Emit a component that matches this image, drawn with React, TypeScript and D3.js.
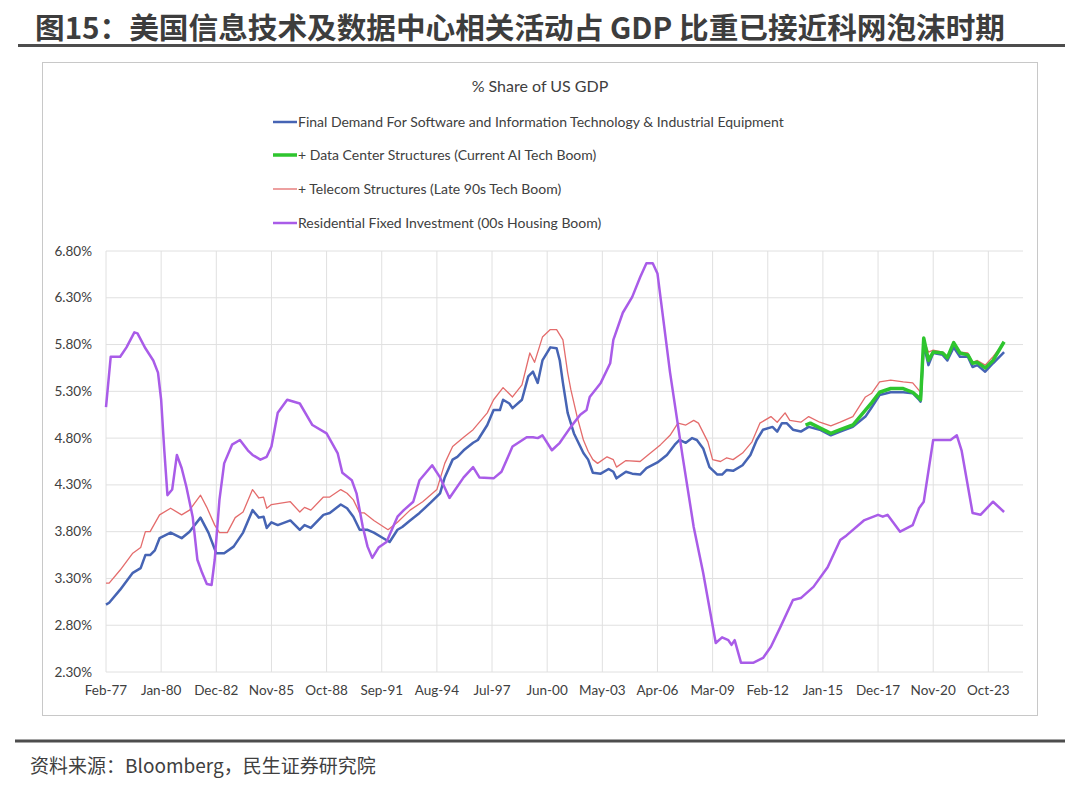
import React from 'react';
import * as d3 from 'd3';

// x positions are month offsets from Feb-77 (monthly category axis)
const xTickLabels = ['Feb-77', 'Jan-80', 'Dec-82', 'Nov-85', 'Oct-88', 'Sep-91', 'Aug-94', 'Jul-97', 'Jun-00', 'May-03', 'Apr-06', 'Mar-09', 'Feb-12', 'Jan-15', 'Dec-17', 'Nov-20', 'Oct-23'];
const tickEvery = 35;
const yTicks = [2.3, 2.8, 3.3, 3.8, 4.3, 4.8, 5.3, 5.8, 6.3, 6.8];

const itEquipment: [number, number][] = [
  [0, 3.02], [2, 3.04], [9, 3.18], [17, 3.36], [22, 3.41], [25, 3.55], [28, 3.55], [31, 3.6], [34, 3.73], [41, 3.79], [48, 3.73], [53, 3.8], [60, 3.95], [65, 3.79], [70, 3.57], [75, 3.57], [81, 3.64], [87, 3.79], [93, 4.03], [97, 3.95], [100, 3.96], [102, 3.84], [105, 3.9], [109, 3.87], [117, 3.92], [123, 3.82], [126, 3.87], [130, 3.84], [138, 3.98], [142, 4.0], [149, 4.09], [153, 4.05], [157, 3.96], [161, 3.82], [166, 3.82], [170, 3.79], [176, 3.73], [180, 3.69], [185, 3.82], [188, 3.85], [193, 3.92], [199, 4.0], [206, 4.11], [212, 4.21], [215, 4.38], [220, 4.57], [223, 4.6], [227, 4.67], [233, 4.75], [236, 4.78], [242, 4.94], [246, 5.1], [250, 5.1], [252, 5.21], [256, 5.17], [258, 5.12], [264, 5.21], [268, 5.46], [271, 5.51], [274, 5.39], [277, 5.63], [282, 5.77], [286, 5.76], [288, 5.63], [290, 5.39], [293, 5.07], [297, 4.85], [303, 4.64], [306, 4.57], [309, 4.43], [314, 4.42], [319, 4.47], [322, 4.44], [324, 4.37], [330, 4.44], [334, 4.42], [339, 4.41], [343, 4.48], [350, 4.54], [356, 4.62], [361, 4.73], [364, 4.78], [368, 4.75], [372, 4.8], [375, 4.78], [379, 4.69], [383, 4.49], [388, 4.41], [391, 4.41], [394, 4.46], [398, 4.45], [404, 4.51], [409, 4.62], [413, 4.78], [417, 4.89], [423, 4.92], [426, 4.87], [429, 4.96], [432, 4.96], [436, 4.89], [441, 4.87], [446, 4.92], [453, 4.89], [460, 4.83], [466, 4.87], [474, 4.92], [482, 5.03], [486, 5.13], [491, 5.26], [498, 5.29], [506, 5.29], [512, 5.28], [516, 5.21], [517, 5.19], [519, 5.8], [522, 5.58], [525, 5.71], [531, 5.69], [534, 5.63], [538, 5.77], [542, 5.67], [547, 5.67], [550, 5.56], [553, 5.58], [558, 5.51], [563, 5.6], [570, 5.72],
];

const plusTelecom: [number, number][] = [
  [0, 3.25], [2, 3.25], [9, 3.39], [17, 3.57], [22, 3.63], [25, 3.8], [28, 3.8], [34, 3.98], [41, 4.05], [48, 3.98], [53, 4.03], [60, 4.19], [64, 4.06], [69, 3.87], [72, 3.79], [77, 3.79], [82, 3.95], [87, 4.01], [93, 4.25], [97, 4.16], [100, 4.17], [102, 4.05], [105, 4.09], [117, 4.12], [123, 4.01], [126, 4.06], [130, 4.03], [138, 4.17], [142, 4.17], [149, 4.25], [153, 4.21], [157, 4.14], [161, 4.0], [164, 4.0], [170, 3.92], [179, 3.82], [185, 3.9], [193, 4.03], [201, 4.12], [210, 4.25], [215, 4.53], [220, 4.71], [227, 4.81], [233, 4.89], [242, 5.07], [246, 5.21], [252, 5.34], [258, 5.24], [264, 5.37], [269, 5.71], [272, 5.61], [277, 5.88], [282, 5.96], [286, 5.96], [290, 5.85], [293, 5.5], [295, 5.32], [299, 5.03], [303, 4.78], [306, 4.66], [309, 4.57], [312, 4.53], [318, 4.6], [322, 4.57], [324, 4.49], [330, 4.56], [339, 4.55], [344, 4.62], [352, 4.73], [358, 4.83], [363, 4.96], [368, 4.94], [373, 4.99], [376, 4.96], [382, 4.76], [385, 4.57], [390, 4.55], [394, 4.59], [398, 4.57], [404, 4.64], [410, 4.76], [415, 4.96], [422, 5.03], [426, 4.97], [431, 5.07], [434, 4.99], [441, 4.97], [446, 5.03], [453, 4.97], [460, 4.93], [466, 4.97], [474, 5.03], [482, 5.24], [486, 5.28], [491, 5.4], [498, 5.42], [506, 5.4], [512, 5.39], [516, 5.31], [517, 5.29], [519, 5.85], [522, 5.72], [525, 5.74], [531, 5.72], [534, 5.67], [538, 5.83], [542, 5.72], [547, 5.71], [550, 5.61], [553, 5.63], [558, 5.58], [563, 5.67], [570, 5.82],
];

const plusDataCenter: [number, number][] = [
  [444, 4.94], [447, 4.96], [453, 4.91], [460, 4.85], [466, 4.89], [474, 4.94], [482, 5.1], [486, 5.18], [491, 5.29], [498, 5.33], [506, 5.33], [512, 5.29], [516, 5.23], [517, 5.21], [519, 5.87], [522, 5.63], [525, 5.72], [531, 5.71], [534, 5.66], [538, 5.82], [542, 5.71], [547, 5.69], [550, 5.6], [553, 5.61], [558, 5.55], [563, 5.63], [570, 5.83],
];

const residential: [number, number][] = [
  [0, 5.13], [3, 5.67], [9, 5.67], [13, 5.77], [18, 5.93], [20, 5.92], [25, 5.76], [30, 5.63], [33, 5.5], [35, 5.21], [37, 4.67], [39, 4.19], [42, 4.25], [45, 4.62], [48, 4.48], [51, 4.28], [55, 3.96], [58, 3.5], [61, 3.36], [64, 3.24], [67, 3.23], [69, 3.5], [72, 4.14], [75, 4.53], [80, 4.73], [85, 4.78], [90, 4.67], [93, 4.62], [98, 4.57], [102, 4.6], [105, 4.71], [109, 5.07], [115, 5.21], [123, 5.17], [131, 4.94], [140, 4.85], [147, 4.64], [150, 4.43], [156, 4.35], [159, 4.21], [163, 3.85], [166, 3.64], [169, 3.52], [173, 3.63], [178, 3.69], [185, 3.96], [189, 4.03], [195, 4.12], [199, 4.35], [207, 4.51], [212, 4.38], [218, 4.16], [227, 4.38], [233, 4.49], [237, 4.38], [246, 4.37], [251, 4.44], [258, 4.71], [267, 4.81], [271, 4.81], [274, 4.8], [277, 4.83], [283, 4.67], [288, 4.75], [295, 4.92], [301, 5.05], [305, 5.1], [307, 5.24], [314, 5.39], [320, 5.6], [322, 5.85], [328, 6.14], [334, 6.31], [339, 6.52], [343, 6.67], [347, 6.67], [350, 6.56], [358, 5.5], [366, 4.6], [373, 3.85], [379, 3.36], [387, 2.61], [391, 2.67], [395, 2.64], [397, 2.59], [399, 2.64], [403, 2.4], [411, 2.4], [417, 2.45], [422, 2.57], [428, 2.78], [436, 3.07], [441, 3.09], [449, 3.21], [458, 3.42], [466, 3.71], [470, 3.76], [481, 3.92], [490, 3.98], [493, 3.96], [496, 3.98], [504, 3.8], [512, 3.87], [516, 4.05], [519, 4.12], [525, 4.78], [531, 4.78], [536, 4.78], [540, 4.83], [543, 4.67], [550, 4.0], [555, 3.98], [563, 4.12], [570, 4.01],
];

const legendItems = [
  { label: 'Final Demand For Software and Information Technology & Industrial Equipment', color: '#4664b4', width: 2.5 },
  { label: '+ Data Center Structures (Current AI Tech Boom)', color: '#2ec52e', width: 3.5 },
  { label: '+ Telecom Structures (Late 90s Tech Boom)', color: '#e46c6c', width: 1.3 },
  { label: 'Residential Fixed Investment (00s Housing Boom)', color: '#a95ce8', width: 2.5 },
];

const headerTitle = '图15：美国信息技术及数据中心相关活动占 GDP 比重已接近科网泡沫时期';
const sourceText = '资料来源：Bloomberg，民生证券研究院';

export default function App() {
  const x = d3.scaleLinear().domain([0, 582]).range([106, 1023]);
  const y = d3.scaleLinear().domain([2.3, 6.8]).range([672, 251]);
  const line = d3
    .line<[number, number]>()
    .x((d) => x(d[0]))
    .y((d) => y(d[1]));

  const font = 'Lato, "Open Sans", sans-serif';
  const cjk = '"Noto Sans CJK SC", "Noto Sans", sans-serif';
  const txt = '#404040';

  return (
    <svg width={1080} height={785} style={{ position: 'absolute', left: 0, top: 0, background: '#fff' }}>
      <rect x={0} y={0} width={1080} height={785} fill="#fff" />
      {/* header */}
      <text x={35} y={39} fontFamily={cjk} fontWeight={700} fontSize={29} fill="#3d3d3d" textLength={970} lengthAdjust="spacingAndGlyphs">
        {headerTitle}
      </text>
      <line x1={18} x2={1065} y1={45.5} y2={45.5} stroke="#4d4d4d" strokeWidth={3} />

      {/* chart box */}
      <rect x={42.5} y={62.5} width={995} height={653} fill="#fff" stroke="#c8c8c8" strokeWidth={1} />

      <text x={540} y={92} textAnchor="middle" fontFamily={font} fontSize={16} fill={txt}>
        % Share of US GDP
      </text>

      {legendItems.map((it, i) => {
        const ly = [122, 155, 189, 223][i];
        return (
          <g key={it.label}>
            <line x1={273} x2={297} y1={ly} y2={ly} stroke={it.color} strokeWidth={it.width} />
            <text x={298} y={ly + 5} fontFamily={font} fontSize={14} fill={txt}>
              {it.label}
            </text>
          </g>
        );
      })}

      {/* grid */}
      {yTicks.map((t) => (
        <line key={'h' + t} x1={106} x2={1023} y1={y(t)} y2={y(t)} stroke="#e0e0e0" strokeWidth={1} />
      ))}
      {xTickLabels.map((lab, i) => (
        <line key={'v' + lab} x1={x(i * tickEvery)} x2={x(i * tickEvery)} y1={251} y2={672} stroke="#e0e0e0" strokeWidth={1} />
      ))}

      {/* axis labels */}
      {yTicks.map((t) => (
        <text key={'yl' + t} x={92} y={y(t) + 4.5} textAnchor="end" fontFamily={font} fontSize={13.5} fill={txt}>
          {t.toFixed(2)}%
        </text>
      ))}
      {xTickLabels.map((lab, i) => (
        <text key={'xl' + lab} x={x(i * tickEvery)} y={695} textAnchor="middle" fontFamily={font} fontSize={13.5} fill={txt}>
          {lab}
        </text>
      ))}

      {/* series */}
      <path d={line(plusTelecom) || ''} fill="none" stroke="#e46c6c" strokeWidth={1.3} strokeLinejoin="round" />
      <path d={line(itEquipment) || ''} fill="none" stroke="#4664b4" strokeWidth={2.5} strokeLinejoin="round" />
      <path d={line(plusDataCenter) || ''} fill="none" stroke="#2ec52e" strokeWidth={3.5} strokeLinejoin="round" />
      <path d={line(residential) || ''} fill="none" stroke="#a95ce8" strokeWidth={2.5} strokeLinejoin="round" />

      {/* footer */}
      <line x1={15} x2={1065} y1={741} y2={741} stroke="#4d4d4d" strokeWidth={3} />
      <text x={30} y={773} fontFamily={cjk} fontSize={19} fill="#404040">
        {sourceText}
      </text>
    </svg>
  );
}
